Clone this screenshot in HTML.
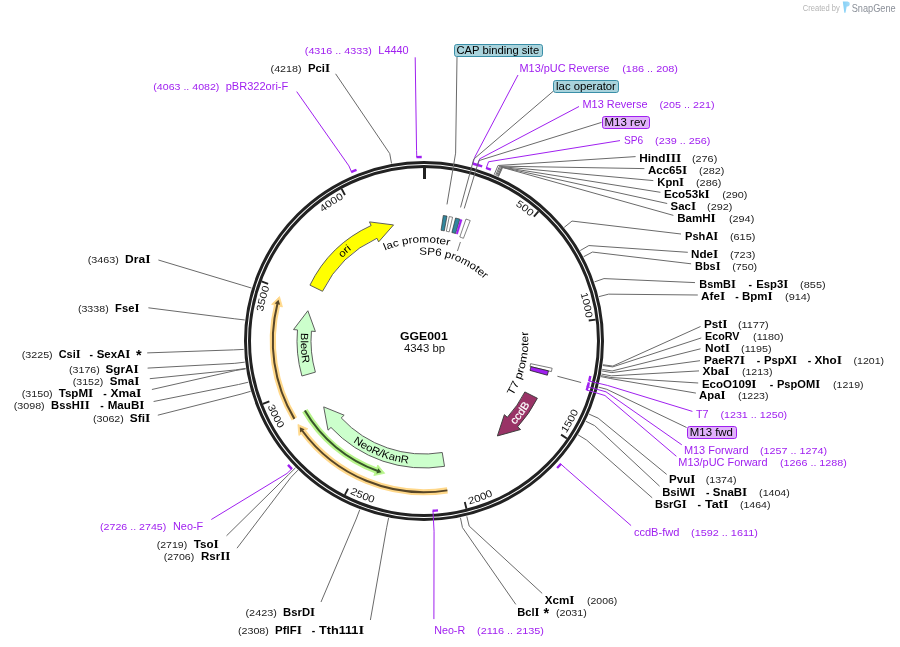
<!DOCTYPE html><html><head><meta charset="utf-8"><style>html,body{margin:0;padding:0;background:#fff;}svg{display:block;will-change:transform;}</style></head><body><svg width="900" height="647" viewBox="0 0 900 647" font-family='"Liberation Sans", sans-serif'><rect width="900" height="647" fill="#fff"/><defs><path id="tk1" d="M425.63,177.41 A163.6,163.6 0 0 1 530.40,216.73"/><path id="tk2" d="M533.50,219.45 A163.6,163.6 0 0 1 586.01,318.28"/><path id="tk3" d="M566.15,433.51 A169.6,169.6 0 0 0 592.36,320.49"/><path id="tk4" d="M469.32,504.43 A169.6,169.6 0 0 0 563.77,437.06"/><path id="tk5" d="M349.80,493.51 A169.6,169.6 0 0 0 465.18,505.52"/><path id="tk6" d="M267.43,406.20 A169.6,169.6 0 0 0 345.97,491.58"/><path id="tk7" d="M271.02,398.97 A163.6,163.6 0 0 1 269.54,287.07"/><path id="tk8" d="M270.95,283.19 A163.6,163.6 0 0 1 343.92,198.34"/><path id="tp9" d="M309.64,364.27 A116.7,116.7 0 0 1 461.03,230.33"/><path id="tp10" d="M356.18,238.15 A123.2,123.2 0 0 0 368.84,451.16"/><path id="tp11" d="M302.05,359.88 A123.4,123.4 0 0 0 501.32,437.17"/><path id="tp12" d="M409.15,463.70 A123.6,123.6 0 0 0 537.69,292.51"/><path id="tp13" d="M335.32,298.13 A98.5,98.5 0 0 1 505.47,285.63"/><path id="tp14" d="M369.22,274.31 A86.3,86.3 0 0 1 509.14,326.90"/><path id="tp15" d="M454.06,440.87 A104.3,104.3 0 0 0 495.46,265.03"/></defs><circle cx="424.0" cy="341.0" r="178.5" fill="none" stroke="#222222" stroke-width="3"/>
<circle cx="424.0" cy="341.0" r="174.5" fill="none" stroke="#222222" stroke-width="3"/>
<line x1="424.50" y1="168.00" x2="424.50" y2="179.00" stroke="#222222" stroke-width="3"/>
<line x1="538.51" y1="211.32" x2="533.88" y2="216.57" stroke="#222222" stroke-width="1.9"/>
<line x1="595.67" y1="319.59" x2="588.72" y2="320.46" stroke="#222222" stroke-width="1.9"/>
<line x1="566.85" y1="438.58" x2="561.07" y2="434.64" stroke="#222222" stroke-width="1.9"/>
<line x1="466.48" y1="508.70" x2="464.77" y2="501.92" stroke="#222222" stroke-width="1.9"/>
<line x1="344.84" y1="494.83" x2="348.04" y2="488.60" stroke="#222222" stroke-width="1.9"/>
<line x1="262.84" y1="403.91" x2="269.36" y2="401.36" stroke="#222222" stroke-width="1.9"/>
<line x1="261.56" y1="281.48" x2="268.13" y2="283.89" stroke="#222222" stroke-width="1.9"/>
<line x1="341.63" y1="188.87" x2="344.96" y2="195.02" stroke="#222222" stroke-width="1.9"/>
<text font-size="10" fill="#111"><textPath href="#tk1" startOffset="100%" text-anchor="end" textLength="19.08" lengthAdjust="spacingAndGlyphs">500</textPath></text>
<text font-size="10" fill="#111"><textPath href="#tk2" startOffset="100%" text-anchor="end" textLength="25.44" lengthAdjust="spacingAndGlyphs">1000</textPath></text>
<text font-size="10" fill="#111"><textPath href="#tk3" startOffset="0" text-anchor="start" textLength="25.44" lengthAdjust="spacingAndGlyphs">1500</textPath></text>
<text font-size="10" fill="#111"><textPath href="#tk4" startOffset="0" text-anchor="start" textLength="25.44" lengthAdjust="spacingAndGlyphs">2000</textPath></text>
<text font-size="10" fill="#111"><textPath href="#tk5" startOffset="0" text-anchor="start" textLength="25.44" lengthAdjust="spacingAndGlyphs">2500</textPath></text>
<text font-size="10" fill="#111"><textPath href="#tk6" startOffset="0" text-anchor="start" textLength="25.44" lengthAdjust="spacingAndGlyphs">3000</textPath></text>
<text font-size="10" fill="#111"><textPath href="#tk7" startOffset="100%" text-anchor="end" textLength="25.44" lengthAdjust="spacingAndGlyphs">3500</textPath></text>
<text font-size="10" fill="#111"><textPath href="#tk8" startOffset="100%" text-anchor="end" textLength="25.44" lengthAdjust="spacingAndGlyphs">4000</textPath></text>
<path d="M294.40,418.87 A151.2,151.2 0 0 1 276.99,305.64" fill="none" stroke="#ffd88a" stroke-width="6.2"/>
<path d="M279.48,296.57 L271.55,304.33 L282.44,306.95 Z" fill="#ffd88a" stroke="#ffd88a" stroke-width="0.8" stroke-linejoin="round"/>
<path d="M294.40,418.87 A151.2,151.2 0 0 1 277.50,303.60" fill="none" stroke="#574628" stroke-width="2.0"/>
<path d="M278.51,299.83 L274.66,303.40 L280.09,304.77 Z" fill="#574628"/>
<path d="M447.39,490.38 A151.2,151.2 0 0 1 303.36,432.15" fill="none" stroke="#ffd88a" stroke-width="6.2"/>
<path d="M297.93,424.48 L298.90,435.53 L307.83,428.77 Z" fill="#ffd88a" stroke="#ffd88a" stroke-width="0.8" stroke-linejoin="round"/>
<path d="M447.39,490.38 A151.2,151.2 0 0 1 302.11,430.47" fill="none" stroke="#574628" stroke-width="2.0"/>
<path d="M299.84,427.29 L300.15,432.53 L304.66,429.20 Z" fill="#574628"/>
<path d="M375.80,470.31 A138.0,138.0 0 0 1 304.85,410.62" fill="none" stroke="#b8f58c" stroke-width="6.2"/>
<path d="M384.72,473.29 L373.85,475.56 L377.76,465.06 Z" fill="#b8f58c" stroke="#b8f58c" stroke-width="0.8" stroke-linejoin="round"/>
<path d="M377.78,471.03 A138.0,138.0 0 0 1 304.85,410.62" fill="none" stroke="#37552a" stroke-width="2.0"/>
<path d="M381.47,472.28 L376.36,473.50 L378.25,468.23 Z" fill="#37552a"/>
<path d="M309.95,285.13 A127,127 0 0 1 371.13,225.53 L369.47,221.89 L393.55,224.93 L378.63,241.89 L376.96,238.26 A113,113 0 0 0 322.52,291.29 Z" fill="#ffff00" stroke="#555" stroke-width="0.95" stroke-linejoin="miter"/>
<path d="M301.92,376.01 A127,127 0 0 1 297.48,329.93 L293.50,329.58 L307.87,310.75 L315.41,331.50 L311.43,331.15 A113,113 0 0 0 315.38,372.15 Z" fill="#ccffcc" stroke="#555" stroke-width="0.95" stroke-linejoin="miter"/>
<path d="M444.52,466.33 A127,127 0 0 1 330.97,427.45 L328.04,430.17 L323.70,406.88 L344.15,415.20 L341.22,417.92 A113,113 0 0 0 442.26,452.51 Z" fill="#ccffcc" stroke="#555" stroke-width="0.95" stroke-linejoin="miter"/>
<path d="M537.36,398.26 A127,127 0 0 1 517.63,426.80 L520.58,429.50 L497.38,435.95 L504.36,414.64 L507.31,417.34 A113,113 0 0 0 524.86,391.95 Z" fill="#993366" stroke="#3a3a3a" stroke-width="0.95" stroke-linejoin="miter"/>
<text font-size="10" fill="#000" font-weight="normal"><textPath href="#tp9" startOffset="50%" text-anchor="middle" textLength="13.0" lengthAdjust="spacingAndGlyphs">ori</textPath></text>
<text font-size="10.5" fill="#000" font-weight="normal"><textPath href="#tp10" startOffset="50%" text-anchor="middle" textLength="31.0" lengthAdjust="spacingAndGlyphs">BleoR</textPath></text>
<text font-size="10.5" fill="#000" font-weight="normal"><textPath href="#tp11" startOffset="50%" text-anchor="middle" textLength="59.8" lengthAdjust="spacingAndGlyphs">NeoR/KanR</textPath></text>
<text font-size="10.6" fill="#ffffff" font-weight="normal" stroke="#ffffff" stroke-width="0.2"><textPath href="#tp12" startOffset="50%" text-anchor="middle" textLength="25.6" lengthAdjust="spacingAndGlyphs">ccdB</textPath></text>
<text font-size="10.2" fill="#000" font-weight="normal"><textPath href="#tp13" startOffset="50%" text-anchor="middle" textLength="65.5" lengthAdjust="spacingAndGlyphs">lac promoter</textPath></text>
<text font-size="10.5" fill="#000" font-weight="normal"><textPath href="#tp14" startOffset="50%" text-anchor="middle" textLength="71.5" lengthAdjust="spacingAndGlyphs">SP6 promoter</textPath></text>
<text font-size="10.6" fill="#000" font-weight="normal"><textPath href="#tp15" startOffset="50%" text-anchor="middle" textLength="67.2" lengthAdjust="spacingAndGlyphs">T7 promoter</textPath></text>
<text x="400.1" y="339.5" font-size="10.5" font-weight="bold" textLength="47.6" lengthAdjust="spacingAndGlyphs">GGE001</text>
<text x="404" y="351.8" font-size="10.2" textLength="41" lengthAdjust="spacingAndGlyphs" fill="#111">4343 bp</text>
<polyline points="494.17,174.70 498.06,165.49 635.60,156.60" fill="none" stroke="#6a6a6a" stroke-width="1"/>
<text x="639.30" y="161.80" font-size="10.5" font-weight="bold" fill="#000" textLength="41.90" lengthAdjust="spacingAndGlyphs">Hind<tspan font-family="Liberation Serif" font-size="12">I</tspan><tspan font-family="Liberation Serif" font-size="12">I</tspan><tspan font-family="Liberation Serif" font-size="12">I</tspan></text>
<text x="691.90" y="161.80" font-size="8.5" font-weight="normal" fill="#222" textLength="25.40" lengthAdjust="spacingAndGlyphs">(276)</text>
<polyline points="495.61,175.31 499.58,166.14 644.40,168.60" fill="none" stroke="#6a6a6a" stroke-width="1"/>
<text x="647.90" y="173.60" font-size="10.5" font-weight="bold" fill="#000" textLength="39.20" lengthAdjust="spacingAndGlyphs">Acc65<tspan font-family="Liberation Serif" font-size="12">I</tspan></text>
<text x="699.10" y="173.60" font-size="8.5" font-weight="normal" fill="#222" textLength="25.30" lengthAdjust="spacingAndGlyphs">(282)</text>
<polyline points="496.57,175.73 500.59,166.58 653.30,180.60" fill="none" stroke="#6a6a6a" stroke-width="1"/>
<text x="657.30" y="185.60" font-size="10.5" font-weight="bold" fill="#000" textLength="26.80" lengthAdjust="spacingAndGlyphs">Kpn<tspan font-family="Liberation Serif" font-size="12">I</tspan></text>
<text x="696.00" y="185.60" font-size="8.5" font-weight="normal" fill="#222" textLength="25.40" lengthAdjust="spacingAndGlyphs">(286)</text>
<polyline points="497.53,176.15 501.60,167.02 660.40,192.30" fill="none" stroke="#6a6a6a" stroke-width="1"/>
<text x="663.90" y="197.60" font-size="10.5" font-weight="bold" fill="#000" textLength="45.90" lengthAdjust="spacingAndGlyphs">Eco53k<tspan font-family="Liberation Serif" font-size="12">I</tspan></text>
<text x="722.20" y="197.60" font-size="8.5" font-weight="normal" fill="#222" textLength="25.30" lengthAdjust="spacingAndGlyphs">(290)</text>
<polyline points="498.00,176.37 502.10,167.25 667.20,203.50" fill="none" stroke="#6a6a6a" stroke-width="1"/>
<text x="670.60" y="209.60" font-size="10.5" font-weight="bold" fill="#000" textLength="25.40" lengthAdjust="spacingAndGlyphs">Sac<tspan font-family="Liberation Serif" font-size="12">I</tspan></text>
<text x="707.10" y="209.60" font-size="8.5" font-weight="normal" fill="#222" textLength="25.30" lengthAdjust="spacingAndGlyphs">(292)</text>
<polyline points="498.48,176.58 502.61,167.47 673.40,215.40" fill="none" stroke="#6a6a6a" stroke-width="1"/>
<text x="677.20" y="221.50" font-size="10.5" font-weight="bold" fill="#000" textLength="38.50" lengthAdjust="spacingAndGlyphs">BamH<tspan font-family="Liberation Serif" font-size="12">I</tspan></text>
<text x="728.90" y="221.50" font-size="8.5" font-weight="normal" fill="#222" textLength="25.40" lengthAdjust="spacingAndGlyphs">(294)</text>
<polyline points="564.23,227.36 572.00,221.06 681.00,234.00" fill="none" stroke="#6a6a6a" stroke-width="1"/>
<text x="685.10" y="239.60" font-size="10.5" font-weight="bold" fill="#000" textLength="33.20" lengthAdjust="spacingAndGlyphs">PshA<tspan font-family="Liberation Serif" font-size="12">I</tspan></text>
<text x="729.90" y="239.60" font-size="8.5" font-weight="normal" fill="#222" textLength="25.50" lengthAdjust="spacingAndGlyphs">(615)</text>
<polyline points="580.21,250.56 588.86,245.55 687.80,252.30" fill="none" stroke="#6a6a6a" stroke-width="1"/>
<text x="691.10" y="257.80" font-size="10.5" font-weight="bold" fill="#000" textLength="27.20" lengthAdjust="spacingAndGlyphs">Nde<tspan font-family="Liberation Serif" font-size="12">I</tspan></text>
<text x="729.90" y="257.80" font-size="8.5" font-weight="normal" fill="#222" textLength="25.50" lengthAdjust="spacingAndGlyphs">(723)</text>
<polyline points="583.62,256.73 592.46,252.06 691.10,263.80" fill="none" stroke="#6a6a6a" stroke-width="1"/>
<text x="695.10" y="269.60" font-size="10.5" font-weight="bold" fill="#000" textLength="25.40" lengthAdjust="spacingAndGlyphs">Bbs<tspan font-family="Liberation Serif" font-size="12">I</tspan></text>
<text x="732.20" y="269.60" font-size="8.5" font-weight="normal" fill="#222" textLength="25.00" lengthAdjust="spacingAndGlyphs">(750)</text>
<polyline points="594.54,281.86 603.98,278.58 695.00,282.60" fill="none" stroke="#6a6a6a" stroke-width="1"/>
<text x="699.30" y="287.80" font-size="10.5" font-weight="bold" fill="#000" textLength="36.50" lengthAdjust="spacingAndGlyphs">BsmB<tspan font-family="Liberation Serif" font-size="12">I</tspan></text>
<text x="748.50" y="287.80" font-size="10.5" font-weight="bold" fill="#000">-</text>
<text x="756.20" y="287.80" font-size="10.5" font-weight="bold" fill="#000" textLength="32.10" lengthAdjust="spacingAndGlyphs">Esp3<tspan font-family="Liberation Serif" font-size="12">I</tspan></text>
<text x="800.10" y="287.80" font-size="8.5" font-weight="normal" fill="#222" textLength="25.50" lengthAdjust="spacingAndGlyphs">(855)</text>
<polyline points="598.96,296.61 608.65,294.15 697.80,295.00" fill="none" stroke="#6a6a6a" stroke-width="1"/>
<text x="701.10" y="299.70" font-size="10.5" font-weight="bold" fill="#000" textLength="24.10" lengthAdjust="spacingAndGlyphs">Afe<tspan font-family="Liberation Serif" font-size="12">I</tspan></text>
<text x="735.20" y="299.70" font-size="10.5" font-weight="bold" fill="#000">-</text>
<text x="741.90" y="299.70" font-size="10.5" font-weight="bold" fill="#000" textLength="30.70" lengthAdjust="spacingAndGlyphs">Bpm<tspan font-family="Liberation Serif" font-size="12">I</tspan></text>
<text x="785.00" y="299.70" font-size="8.5" font-weight="normal" fill="#222" textLength="25.50" lengthAdjust="spacingAndGlyphs">(914)</text>
<polyline points="602.93,364.76 612.84,366.08 700.50,326.50" fill="none" stroke="#6a6a6a" stroke-width="1"/>
<text x="704.00" y="328.00" font-size="10.5" font-weight="bold" fill="#000" textLength="23.50" lengthAdjust="spacingAndGlyphs">Pst<tspan font-family="Liberation Serif" font-size="12">I</tspan></text>
<text x="737.90" y="328.00" font-size="8.5" font-weight="normal" fill="#222" textLength="30.70" lengthAdjust="spacingAndGlyphs">(1177)</text>
<polyline points="602.82,365.54 612.73,366.90 701.30,337.90" fill="none" stroke="#6a6a6a" stroke-width="1"/>
<text x="705.10" y="340.00" font-size="10.5" font-weight="bold" fill="#000" textLength="34.40" lengthAdjust="spacingAndGlyphs">EcoRV</text>
<text x="753.10" y="340.00" font-size="8.5" font-weight="normal" fill="#222" textLength="30.40" lengthAdjust="spacingAndGlyphs">(1180)</text>
<polyline points="602.25,369.41 612.13,370.98 700.50,348.80" fill="none" stroke="#6a6a6a" stroke-width="1"/>
<text x="705.10" y="352.00" font-size="10.5" font-weight="bold" fill="#000" textLength="25.00" lengthAdjust="spacingAndGlyphs">Not<tspan font-family="Liberation Serif" font-size="12">I</tspan></text>
<text x="741.10" y="352.00" font-size="8.5" font-weight="normal" fill="#222" textLength="30.40" lengthAdjust="spacingAndGlyphs">(1195)</text>
<polyline points="602.00,370.96 611.86,372.62 700.00,360.70" fill="none" stroke="#6a6a6a" stroke-width="1"/>
<text x="703.90" y="363.60" font-size="10.5" font-weight="bold" fill="#000" textLength="41.00" lengthAdjust="spacingAndGlyphs">PaeR7<tspan font-family="Liberation Serif" font-size="12">I</tspan></text>
<text x="756.80" y="363.60" font-size="10.5" font-weight="bold" fill="#000">-</text>
<text x="763.90" y="363.60" font-size="10.5" font-weight="bold" fill="#000" textLength="33.20" lengthAdjust="spacingAndGlyphs">PspX<tspan font-family="Liberation Serif" font-size="12">I</tspan></text>
<text x="807.80" y="363.60" font-size="10.5" font-weight="bold" fill="#000">-</text>
<text x="814.50" y="363.60" font-size="10.5" font-weight="bold" fill="#000" textLength="27.40" lengthAdjust="spacingAndGlyphs">Xho<tspan font-family="Liberation Serif" font-size="12">I</tspan></text>
<text x="853.50" y="363.60" font-size="8.5" font-weight="normal" fill="#222" textLength="30.60" lengthAdjust="spacingAndGlyphs">(1201)</text>
<polyline points="601.45,374.04 611.28,375.87 699.00,370.90" fill="none" stroke="#6a6a6a" stroke-width="1"/>
<text x="702.50" y="375.40" font-size="10.5" font-weight="bold" fill="#000" textLength="27.00" lengthAdjust="spacingAndGlyphs">Xba<tspan font-family="Liberation Serif" font-size="12">I</tspan></text>
<text x="741.90" y="375.40" font-size="8.5" font-weight="normal" fill="#222" textLength="30.60" lengthAdjust="spacingAndGlyphs">(1213)</text>
<polyline points="601.16,375.58 610.97,377.50 698.20,383.00" fill="none" stroke="#6a6a6a" stroke-width="1"/>
<text x="701.90" y="388.00" font-size="10.5" font-weight="bold" fill="#000" textLength="54.60" lengthAdjust="spacingAndGlyphs">EcoO109<tspan font-family="Liberation Serif" font-size="12">I</tspan></text>
<text x="769.80" y="388.00" font-size="10.5" font-weight="bold" fill="#000">-</text>
<text x="776.90" y="388.00" font-size="10.5" font-weight="bold" fill="#000" textLength="43.20" lengthAdjust="spacingAndGlyphs">PspOM<tspan font-family="Liberation Serif" font-size="12">I</tspan></text>
<text x="833.10" y="388.00" font-size="8.5" font-weight="normal" fill="#222" textLength="30.40" lengthAdjust="spacingAndGlyphs">(1219)</text>
<polyline points="600.95,376.61 610.76,378.58 695.90,393.10" fill="none" stroke="#6a6a6a" stroke-width="1"/>
<text x="699.10" y="399.00" font-size="10.5" font-weight="bold" fill="#000" textLength="26.40" lengthAdjust="spacingAndGlyphs">Apa<tspan font-family="Liberation Serif" font-size="12">I</tspan></text>
<text x="737.90" y="399.00" font-size="8.5" font-weight="normal" fill="#222" textLength="30.60" lengthAdjust="spacingAndGlyphs">(1223)</text>
<polyline points="589.03,414.11 598.17,418.16 666.70,474.40" fill="none" stroke="#6a6a6a" stroke-width="1"/>
<text x="669.10" y="483.30" font-size="10.5" font-weight="bold" fill="#000" textLength="26.30" lengthAdjust="spacingAndGlyphs">Pvu<tspan font-family="Liberation Serif" font-size="12">I</tspan></text>
<text x="705.70" y="483.30" font-size="8.5" font-weight="normal" fill="#222" textLength="30.80" lengthAdjust="spacingAndGlyphs">(1374)</text>
<polyline points="585.70,421.20 594.66,425.64 659.60,486.20" fill="none" stroke="#6a6a6a" stroke-width="1"/>
<text x="662.20" y="495.60" font-size="10.5" font-weight="bold" fill="#000" textLength="33.20" lengthAdjust="spacingAndGlyphs">BsiW<tspan font-family="Liberation Serif" font-size="12">I</tspan></text>
<text x="706.00" y="495.60" font-size="10.5" font-weight="bold" fill="#000">-</text>
<text x="712.80" y="495.60" font-size="10.5" font-weight="bold" fill="#000" textLength="34.40" lengthAdjust="spacingAndGlyphs">SnaB<tspan font-family="Liberation Serif" font-size="12">I</tspan></text>
<text x="759.10" y="495.60" font-size="8.5" font-weight="normal" fill="#222" textLength="30.70" lengthAdjust="spacingAndGlyphs">(1404)</text>
<polyline points="578.14,434.92 586.68,440.12 652.20,497.80" fill="none" stroke="#6a6a6a" stroke-width="1"/>
<text x="655.10" y="507.80" font-size="10.5" font-weight="bold" fill="#000" textLength="31.60" lengthAdjust="spacingAndGlyphs">BsrG<tspan font-family="Liberation Serif" font-size="12">I</tspan></text>
<text x="697.60" y="507.80" font-size="10.5" font-weight="bold" fill="#000">-</text>
<text x="705.10" y="507.80" font-size="10.5" font-weight="bold" fill="#000" textLength="23.60" lengthAdjust="spacingAndGlyphs">Tat<tspan font-family="Liberation Serif" font-size="12">I</tspan></text>
<text x="739.90" y="507.80" font-size="8.5" font-weight="normal" fill="#222" textLength="30.60" lengthAdjust="spacingAndGlyphs">(1464)</text>
<polyline points="466.81,516.35 469.18,526.07 542.20,593.40" fill="none" stroke="#6a6a6a" stroke-width="1"/>
<text x="544.70" y="603.70" font-size="10.5" font-weight="bold" fill="#000" textLength="29.80" lengthAdjust="spacingAndGlyphs">Xcm<tspan font-family="Liberation Serif" font-size="12">I</tspan></text>
<text x="587.00" y="603.70" font-size="8.5" font-weight="normal" fill="#222" textLength="30.30" lengthAdjust="spacingAndGlyphs">(2006)</text>
<polyline points="460.44,517.78 462.46,527.58 515.80,604.40" fill="none" stroke="#6a6a6a" stroke-width="1"/>
<text x="517.30" y="615.90" font-size="10.5" font-weight="bold" fill="#000" textLength="22.20" lengthAdjust="spacingAndGlyphs">Bcl<tspan font-family="Liberation Serif" font-size="12">I</tspan></text>
<text x="543.60" y="618.10" font-size="14.5" font-weight="bold">*</text>
<text x="555.90" y="615.90" font-size="8.5" font-weight="normal" fill="#222" textLength="30.90" lengthAdjust="spacingAndGlyphs">(2031)</text>
<polyline points="388.59,517.99 386.62,527.80 370.40,620.00" fill="none" stroke="#6a6a6a" stroke-width="1"/>
<text x="275.10" y="633.60" font-size="10.5" font-weight="bold" fill="#000" textLength="26.80" lengthAdjust="spacingAndGlyphs">PflF<tspan font-family="Liberation Serif" font-size="12">I</tspan></text>
<text x="311.80" y="633.60" font-size="10.5" font-weight="bold" fill="#000">-</text>
<text x="318.90" y="633.60" font-size="10.5" font-weight="bold" fill="#000" textLength="45.20" lengthAdjust="spacingAndGlyphs">Tth111<tspan font-family="Liberation Serif" font-size="12">I</tspan></text>
<text x="237.90" y="633.60" font-size="8.5" font-weight="normal" fill="#222" textLength="31.00" lengthAdjust="spacingAndGlyphs">(2308)</text>
<polyline points="359.76,509.68 356.21,519.03 321.00,602.00" fill="none" stroke="#6a6a6a" stroke-width="1"/>
<text x="283.10" y="615.60" font-size="10.5" font-weight="bold" fill="#000" textLength="32.00" lengthAdjust="spacingAndGlyphs">BsrD<tspan font-family="Liberation Serif" font-size="12">I</tspan></text>
<text x="245.50" y="615.60" font-size="8.5" font-weight="normal" fill="#222" textLength="31.40" lengthAdjust="spacingAndGlyphs">(2423)</text>
<polyline points="297.92,470.17 290.94,477.33 237.00,548.20" fill="none" stroke="#6a6a6a" stroke-width="1"/>
<text x="201.00" y="559.60" font-size="10.5" font-weight="bold" fill="#000" textLength="29.50" lengthAdjust="spacingAndGlyphs">Rsr<tspan font-family="Liberation Serif" font-size="12">I</tspan><tspan font-family="Liberation Serif" font-size="12">I</tspan></text>
<text x="163.70" y="559.60" font-size="8.5" font-weight="normal" fill="#222" textLength="30.60" lengthAdjust="spacingAndGlyphs">(2706)</text>
<polyline points="295.52,467.78 288.40,474.80 226.50,535.80" fill="none" stroke="#6a6a6a" stroke-width="1"/>
<text x="193.80" y="547.50" font-size="10.5" font-weight="bold" fill="#000" textLength="25.00" lengthAdjust="spacingAndGlyphs">Tso<tspan font-family="Liberation Serif" font-size="12">I</tspan></text>
<text x="156.70" y="547.50" font-size="8.5" font-weight="normal" fill="#222" textLength="30.60" lengthAdjust="spacingAndGlyphs">(2719)</text>
<polyline points="250.65,391.31 241.05,394.10 157.80,415.20" fill="none" stroke="#6a6a6a" stroke-width="1"/>
<text x="129.80" y="422.00" font-size="10.5" font-weight="bold" fill="#000" textLength="20.50" lengthAdjust="spacingAndGlyphs">Sfi<tspan font-family="Liberation Serif" font-size="12">I</tspan></text>
<text x="92.90" y="422.00" font-size="8.5" font-weight="normal" fill="#222" textLength="31.00" lengthAdjust="spacingAndGlyphs">(3062)</text>
<polyline points="248.27,382.22 238.53,384.50 153.60,401.50" fill="none" stroke="#6a6a6a" stroke-width="1"/>
<text x="51.10" y="408.50" font-size="10.5" font-weight="bold" fill="#000" textLength="38.60" lengthAdjust="spacingAndGlyphs">BssH<tspan font-family="Liberation Serif" font-size="12">I</tspan><tspan font-family="Liberation Serif" font-size="12">I</tspan></text>
<text x="100.20" y="408.50" font-size="10.5" font-weight="bold" fill="#000">-</text>
<text x="107.70" y="408.50" font-size="10.5" font-weight="bold" fill="#000" textLength="36.80" lengthAdjust="spacingAndGlyphs">MauB<tspan font-family="Liberation Serif" font-size="12">I</tspan></text>
<text x="13.70" y="408.50" font-size="8.5" font-weight="normal" fill="#222" textLength="31.00" lengthAdjust="spacingAndGlyphs">(3098)</text>
<polyline points="245.67,368.89 235.79,370.44 151.90,389.50" fill="none" stroke="#6a6a6a" stroke-width="1"/>
<text x="58.70" y="396.60" font-size="10.5" font-weight="bold" fill="#000" textLength="34.60" lengthAdjust="spacingAndGlyphs">TspM<tspan font-family="Liberation Serif" font-size="12">I</tspan></text>
<text x="103.30" y="396.60" font-size="10.5" font-weight="bold" fill="#000">-</text>
<text x="110.40" y="396.60" font-size="10.5" font-weight="bold" fill="#000" textLength="31.00" lengthAdjust="spacingAndGlyphs">Xma<tspan font-family="Liberation Serif" font-size="12">I</tspan></text>
<text x="21.70" y="396.60" font-size="8.5" font-weight="normal" fill="#222" textLength="31.00" lengthAdjust="spacingAndGlyphs">(3150)</text>
<polyline points="245.59,368.38 235.70,369.90 149.80,378.70" fill="none" stroke="#6a6a6a" stroke-width="1"/>
<text x="109.80" y="384.60" font-size="10.5" font-weight="bold" fill="#000" textLength="29.50" lengthAdjust="spacingAndGlyphs">Sma<tspan font-family="Liberation Serif" font-size="12">I</tspan></text>
<text x="72.80" y="384.60" font-size="8.5" font-weight="normal" fill="#222" textLength="30.60" lengthAdjust="spacingAndGlyphs">(3152)</text>
<polyline points="244.75,362.17 234.81,363.34 147.60,368.10" fill="none" stroke="#6a6a6a" stroke-width="1"/>
<text x="105.60" y="373.00" font-size="10.5" font-weight="bold" fill="#000" textLength="33.00" lengthAdjust="spacingAndGlyphs">SgrA<tspan font-family="Liberation Serif" font-size="12">I</tspan></text>
<text x="69.00" y="373.00" font-size="8.5" font-weight="normal" fill="#222" textLength="30.80" lengthAdjust="spacingAndGlyphs">(3176)</text>
<polyline points="243.70,349.42 233.71,349.88 147.20,352.90" fill="none" stroke="#6a6a6a" stroke-width="1"/>
<text x="58.70" y="357.80" font-size="10.5" font-weight="bold" fill="#000" textLength="21.90" lengthAdjust="spacingAndGlyphs">Csi<tspan font-family="Liberation Serif" font-size="12">I</tspan></text>
<text x="89.60" y="357.80" font-size="10.5" font-weight="bold" fill="#000">-</text>
<text x="96.70" y="357.80" font-size="10.5" font-weight="bold" fill="#000" textLength="33.70" lengthAdjust="spacingAndGlyphs">SexA<tspan font-family="Liberation Serif" font-size="12">I</tspan></text>
<text x="135.90" y="360.00" font-size="14.5" font-weight="bold">*</text>
<text x="21.70" y="357.80" font-size="8.5" font-weight="normal" fill="#222" textLength="31.00" lengthAdjust="spacingAndGlyphs">(3225)</text>
<polyline points="244.73,319.96 234.80,318.80 148.40,307.80" fill="none" stroke="#6a6a6a" stroke-width="1"/>
<text x="115.10" y="311.60" font-size="10.5" font-weight="bold" fill="#000" textLength="24.30" lengthAdjust="spacingAndGlyphs">Fse<tspan font-family="Liberation Serif" font-size="12">I</tspan></text>
<text x="77.90" y="311.60" font-size="8.5" font-weight="normal" fill="#222" textLength="30.80" lengthAdjust="spacingAndGlyphs">(3338)</text>
<polyline points="251.44,288.06 241.88,285.13 158.40,260.00" fill="none" stroke="#6a6a6a" stroke-width="1"/>
<text x="125.10" y="262.90" font-size="10.5" font-weight="bold" fill="#000" textLength="25.40" lengthAdjust="spacingAndGlyphs">Dra<tspan font-family="Liberation Serif" font-size="12">I</tspan></text>
<text x="87.70" y="262.90" font-size="8.5" font-weight="normal" fill="#222" textLength="31.20" lengthAdjust="spacingAndGlyphs">(3463)</text>
<polyline points="391.54,163.44 389.74,153.61 335.60,73.80" fill="none" stroke="#6a6a6a" stroke-width="1"/>
<text x="307.90" y="71.60" font-size="10.5" font-weight="bold" fill="#000" textLength="22.20" lengthAdjust="spacingAndGlyphs">Pci<tspan font-family="Liberation Serif" font-size="12">I</tspan></text>
<text x="270.60" y="71.60" font-size="8.5" font-weight="normal" fill="#222" textLength="31.00" lengthAdjust="spacingAndGlyphs">(4218)</text>
<path d="M416.43,157.16 A184.0,184.0 0 0 1 421.72,157.01" fill="none" stroke="#a020f0" stroke-width="2.4"/>
<polyline points="416.81,157.14 416.56,150.65 415.20,57.30" fill="none" stroke="#a020f0" stroke-width="1"/>
<text x="378.30" y="53.70" font-size="10.8" font-weight="normal" fill="#a020f0" textLength="30.40" lengthAdjust="spacingAndGlyphs">L4440</text>
<text x="304.80" y="53.70" font-size="8.5" font-weight="normal" fill="#a020f0" textLength="67.00" lengthAdjust="spacingAndGlyphs">(4316 .. 4333)</text>
<path d="M351.13,172.04 A184.0,184.0 0 0 1 356.52,169.82" fill="none" stroke="#a020f0" stroke-width="2.4"/>
<polyline points="351.49,171.89 348.92,165.92 296.70,91.60" fill="none" stroke="#a020f0" stroke-width="1"/>
<text x="225.70" y="89.60" font-size="10.8" font-weight="normal" fill="#a020f0" textLength="62.60" lengthAdjust="spacingAndGlyphs">pBR322ori-F</text>
<text x="153.30" y="89.60" font-size="8.5" font-weight="normal" fill="#a020f0" textLength="66.10" lengthAdjust="spacingAndGlyphs">(4063 .. 4082)</text>
<path d="M472.55,163.52 A184.0,184.0 0 0 1 478.91,165.38" fill="none" stroke="#a020f0" stroke-width="2.4"/>
<polyline points="472.92,163.62 474.65,157.36 518.00,75.00" fill="none" stroke="#a020f0" stroke-width="1"/>
<text x="519.50" y="72.00" font-size="10.8" font-weight="normal" fill="#a020f0" textLength="89.70" lengthAdjust="spacingAndGlyphs">M13/pUC Reverse</text>
<text x="622.20" y="72.00" font-size="8.5" font-weight="normal" fill="#a020f0" textLength="55.80" lengthAdjust="spacingAndGlyphs">(186 .. 208)</text>
<path d="M477.41,164.92 A184.0,184.0 0 0 1 482.20,166.45" fill="none" stroke="#a020f0" stroke-width="2.4"/>
<polyline points="477.77,165.03 479.67,158.82 579.00,106.50" fill="none" stroke="#a020f0" stroke-width="1"/>
<text x="582.50" y="107.70" font-size="10.8" font-weight="normal" fill="#a020f0" textLength="65.00" lengthAdjust="spacingAndGlyphs">M13 Reverse</text>
<text x="659.50" y="107.70" font-size="8.5" font-weight="normal" fill="#a020f0" textLength="55.00" lengthAdjust="spacingAndGlyphs">(205 .. 221)</text>
<path d="M486.00,167.76 A184.0,184.0 0 0 1 490.96,169.62" fill="none" stroke="#a020f0" stroke-width="2.4"/>
<polyline points="486.36,167.89 488.56,161.77 620.00,140.60" fill="none" stroke="#a020f0" stroke-width="1"/>
<text x="623.90" y="144.00" font-size="10.8" font-weight="normal" fill="#a020f0" textLength="19.20" lengthAdjust="spacingAndGlyphs">SP6</text>
<text x="655.10" y="144.00" font-size="8.5" font-weight="normal" fill="#a020f0" textLength="55.40" lengthAdjust="spacingAndGlyphs">(239 .. 256)</text>
<path d="M590.33,376.11 A170.0,170.0 0 0 1 589.14,381.36" fill="none" stroke="#a020f0" stroke-width="2.4"/>
<polyline points="589.22,381.02 607.69,385.49 692.40,411.40" fill="none" stroke="#a020f0" stroke-width="1"/>
<text x="696.00" y="417.80" font-size="10.8" font-weight="normal" fill="#a020f0" textLength="12.60" lengthAdjust="spacingAndGlyphs">T7</text>
<text x="720.40" y="417.80" font-size="8.5" font-weight="normal" fill="#a020f0" textLength="66.80" lengthAdjust="spacingAndGlyphs">(1231 .. 1250)</text>
<path d="M588.90,382.34 A170.0,170.0 0 0 1 587.64,387.07" fill="none" stroke="#a020f0" stroke-width="2.4"/>
<polyline points="587.73,386.73 606.03,391.84 681.80,444.80" fill="none" stroke="#a020f0" stroke-width="1"/>
<text x="683.90" y="453.70" font-size="10.8" font-weight="normal" fill="#a020f0" textLength="64.60" lengthAdjust="spacingAndGlyphs">M13 Forward</text>
<text x="760.00" y="453.70" font-size="8.5" font-weight="normal" fill="#a020f0" textLength="67.00" lengthAdjust="spacingAndGlyphs">(1257 .. 1274)</text>
<path d="M588.34,384.49 A170.0,170.0 0 0 1 586.67,390.38" fill="none" stroke="#a020f0" stroke-width="2.4"/>
<polyline points="586.77,390.04 604.97,395.52 676.40,456.30" fill="none" stroke="#a020f0" stroke-width="1"/>
<text x="678.30" y="465.60" font-size="10.8" font-weight="normal" fill="#a020f0" textLength="89.30" lengthAdjust="spacingAndGlyphs">M13/pUC Forward</text>
<text x="779.90" y="465.60" font-size="8.5" font-weight="normal" fill="#a020f0" textLength="67.00" lengthAdjust="spacingAndGlyphs">(1266 .. 1288)</text>
<path d="M561.07,463.75 A184.0,184.0 0 0 1 557.12,468.03" fill="none" stroke="#a020f0" stroke-width="2.4"/>
<polyline points="560.82,464.03 565.65,468.38 631.10,525.60" fill="none" stroke="#a020f0" stroke-width="1"/>
<text x="633.90" y="535.60" font-size="10.8" font-weight="normal" fill="#a020f0" textLength="45.50" lengthAdjust="spacingAndGlyphs">ccdB-fwd</text>
<text x="691.10" y="535.60" font-size="8.5" font-weight="normal" fill="#a020f0" textLength="66.70" lengthAdjust="spacingAndGlyphs">(1592 .. 1611)</text>
<path d="M437.99,510.42 A170.0,170.0 0 0 1 432.62,510.78" fill="none" stroke="#a020f0" stroke-width="2.4"/>
<polyline points="432.97,510.76 434.05,531.23 433.90,619.10" fill="none" stroke="#a020f0" stroke-width="1"/>
<text x="434.20" y="633.80" font-size="10.8" font-weight="normal" fill="#a020f0" textLength="31.00" lengthAdjust="spacingAndGlyphs">Neo-R</text>
<text x="477.00" y="633.80" font-size="8.5" font-weight="normal" fill="#a020f0" textLength="67.00" lengthAdjust="spacingAndGlyphs">(2116 .. 2135)</text>
<path d="M291.99,469.18 A184.0,184.0 0 0 1 288.00,464.93" fill="none" stroke="#a020f0" stroke-width="2.4"/>
<polyline points="291.72,468.90 287.05,473.42 211.30,519.50" fill="none" stroke="#a020f0" stroke-width="1"/>
<text x="173.00" y="530.00" font-size="10.8" font-weight="normal" fill="#a020f0" textLength="30.20" lengthAdjust="spacingAndGlyphs">Neo-F</text>
<text x="100.00" y="530.00" font-size="8.5" font-weight="normal" fill="#a020f0" textLength="66.30" lengthAdjust="spacingAndGlyphs">(2726 .. 2745)</text>
<polyline points="446.98,204.42 455.61,153.14 457.00,57.00" fill="none" stroke="#6a6a6a" stroke-width="1"/>
<polyline points="460.55,207.41 473.74,159.18 553.50,91.00" fill="none" stroke="#6a6a6a" stroke-width="1"/>
<polyline points="464.26,208.48 478.80,160.64 601.50,122.40" fill="none" stroke="#6a6a6a" stroke-width="1"/>
<line x1="557.42" y1="376.25" x2="581.11" y2="382.51" stroke="#6a6a6a" stroke-width="1"/>
<polyline points="598.51,387.11 606.73,389.28 686.60,427.50" fill="none" stroke="#6a6a6a" stroke-width="1"/>
<rect x="454.50" y="44.50" width="88.00" height="12.00" rx="2.2" fill="#a9d3dc" stroke="#3a8fa8" stroke-width="1"/>
<text x="456.50" y="54.00" font-size="10.5" font-weight="normal" fill="#000" textLength="82.70" lengthAdjust="spacingAndGlyphs">CAP binding site</text>
<rect x="553.50" y="80.50" width="65.00" height="12.00" rx="2.2" fill="#a9d3dc" stroke="#3a8fa8" stroke-width="1"/>
<text x="556.10" y="90.20" font-size="10.5" font-weight="normal" fill="#000" textLength="59.80" lengthAdjust="spacingAndGlyphs">lac operator</text>
<rect x="602.50" y="116.50" width="47.00" height="12.00" rx="2.2" fill="#e1b2fb" stroke="#a020f0" stroke-width="1"/>
<text x="604.50" y="126.00" font-size="10.5" font-weight="normal" fill="#000" textLength="41.60" lengthAdjust="spacingAndGlyphs">M13 rev</text>
<rect x="687.50" y="426.50" width="49.00" height="12.00" rx="2.2" fill="#e1b2fb" stroke="#a020f0" stroke-width="1"/>
<text x="689.80" y="435.50" font-size="10.5" font-weight="normal" fill="#000" textLength="43.10" lengthAdjust="spacingAndGlyphs">M13 fwd</text>
<path d="M443.32,215.48 A127,127 0 0 1 447.03,216.11 L444.31,230.86 A112,112 0 0 0 441.04,230.30 Z" fill="#31869d" stroke="#333" stroke-width="0.7"/>
<path d="M449.32,216.55 A127,127 0 0 1 452.57,217.26 L449.19,231.87 A112,112 0 0 0 446.33,231.25 Z" fill="#ffffff" stroke="#333" stroke-width="0.6"/>
<path d="M455.58,217.99 A127,127 0 0 1 459.86,219.17 L455.62,233.56 A112,112 0 0 0 451.85,232.52 Z" fill="#31869d" stroke="#333" stroke-width="0.7"/>
<path d="M460.28,219.29 A127,127 0 0 1 462.19,219.88 L457.68,234.18 A112,112 0 0 0 456.00,233.67 Z" fill="#a020f0" stroke="#a020f0" stroke-width="0.3"/>
<path d="M466.00,219.03 A129,129 0 0 1 470.23,220.57 L463.42,238.31 A110,110 0 0 0 459.81,236.99 Z" fill="#ffffff" stroke="#333" stroke-width="0.6"/>
<path d="M552.14,368.24 A131,131 0 0 1 551.38,371.58 L529.99,366.45 A109,109 0 0 0 530.62,363.66 Z" fill="#ffffff" stroke="#444" stroke-width="0.7"/>
<path d="M548.46,370.88 A128,128 0 0 1 547.34,375.21 L530.00,370.40 A110,110 0 0 0 530.96,366.68 Z" fill="#a020f0" stroke="#222" stroke-width="0.8"/>
<line x1="460.43" y1="241.99" x2="457.46" y2="251.02" stroke="#6a6a6a" stroke-width="0.9"/>
<text x="802.8" y="11.2" font-size="8.2" fill="#b4b4b4" textLength="37" lengthAdjust="spacingAndGlyphs">Created by</text>
<defs><linearGradient id="lg" x1="0" y1="0" x2="1" y2="0"><stop offset="0" stop-color="#84d0f6"/><stop offset="1" stop-color="#a6dcf8"/></linearGradient></defs>
<path d="M842.8,1.5 L847.6,1.5 Q849.9,1.7 849.8,3.7 L849.6,5.0 Q849.3,6.4 847.6,6.5 L846.7,6.6 L845.5,12.7 L844.3,12.7 Z" fill="url(#lg)"/>
<text x="851.7" y="12" font-size="10.6" fill="#8b9099" textLength="44" lengthAdjust="spacingAndGlyphs">SnapGene</text></svg></body></html>
